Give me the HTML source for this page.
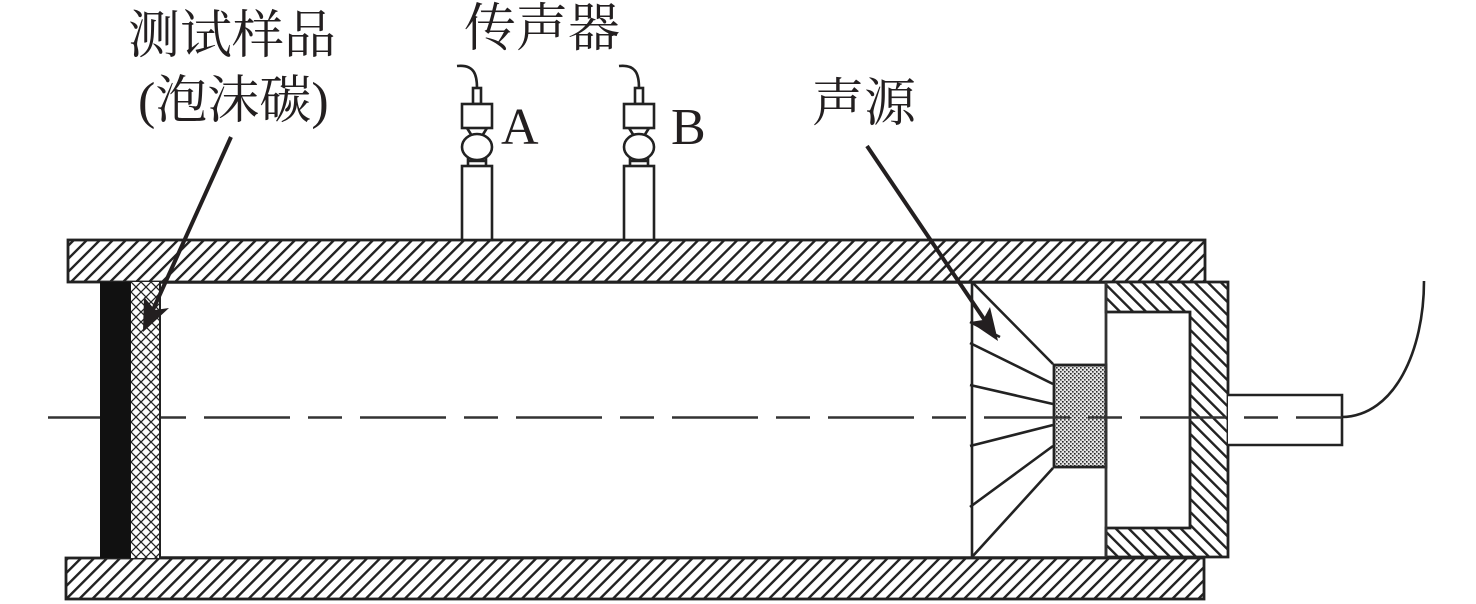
<!DOCTYPE html>
<html lang="zh">
<head>
<meta charset="utf-8">
<title>声学测试装置</title>
<style>
html,body{margin:0;padding:0;background:#fff;}
body{width:1476px;height:604px;overflow:hidden;}
svg{display:block;}
text{fill:#231f20;}
.cjk{font-family:"Liberation Serif","Noto Serif CJK SC",serif;font-size:52px;font-weight:400;}
.lat{font-family:"Liberation Serif",serif;font-size:52px;}
</style>
</head>
<body>
<svg width="1476" height="604" viewBox="0 0 1476 604" xmlns="http://www.w3.org/2000/svg">
<defs>
<pattern id="h1" width="9.2" height="9.2" patternUnits="userSpaceOnUse" patternTransform="rotate(45 0 0)">
<rect width="9.2" height="9.2" fill="#fff"/><rect x="0" y="0" width="2.4" height="9.2" fill="#222"/>
</pattern>
<pattern id="h2" width="9.2" height="9.2" patternUnits="userSpaceOnUse" patternTransform="rotate(-45 0 0)">
<rect width="9.2" height="9.2" fill="#fff"/><rect x="0" y="0" width="2.4" height="9.2" fill="#222"/>
</pattern>
<pattern id="x" width="10" height="10" patternUnits="userSpaceOnUse" patternTransform="translate(131 282)">
<rect width="10" height="10" fill="#fff"/>
<path d="M0 0L10 10M10 0L0 10" stroke="#222" stroke-width="1.3"/>
</pattern>
<pattern id="d" width="4" height="4" patternUnits="userSpaceOnUse" patternTransform="translate(1054 365)">
<rect width="4" height="4" fill="#e4e4e4"/>
<rect x="0" y="0" width="1.6" height="1.6" fill="#222"/>
<rect x="2" y="2" width="1.6" height="1.6" fill="#333"/>
</pattern>
<g id="mic" fill="#fff" stroke="#222" stroke-width="2.6">
<path d="M477 88C477 76 475 64 457 66" fill="none"/>
<rect x="473" y="88" width="8" height="16"/>
<rect x="462" y="104" width="30" height="24"/>
<path d="M467 128L472 136M487 128L482 136" fill="none"/>
<path d="M468 156V166M486 156V166M468 161H486" fill="none"/>
<ellipse cx="477" cy="147" rx="15" ry="13"/>
<rect x="462" y="166" width="30" height="74"/>
</g>
</defs>

<!-- body bars -->
<rect x="68" y="240" width="1137" height="42" fill="url(#h1)" stroke="#222" stroke-width="2.8"/>
<rect x="66" y="558" width="1138" height="41" fill="url(#h1)" stroke="#222" stroke-width="2.8"/>

<!-- microphones -->
<use href="#mic"/>
<use href="#mic" x="162"/>

<!-- sample -->
<rect x="100" y="282" width="31" height="276" fill="#111"/>
<rect x="131" y="282" width="29" height="276" fill="url(#x)"/>
<path d="M160 282V558" stroke="#222" stroke-width="2"/>

<!-- tube top/bottom edge -->
<path d="M160 282.5H1106M160 557.5H1106" stroke="#222" stroke-width="2.4"/>

<!-- horn -->
<g stroke="#222" stroke-width="2.6" fill="none">
<path d="M972 282V557"/>
<path d="M972 282L1053 364M972 557L1053 468"/>
<path d="M970 322L1000 337M970 343L1053 384M970 385L1053 404M970 446L1053 425M970 507L1053 446"/>
</g>
<rect x="1054" y="365" width="52" height="102" fill="url(#d)" stroke="#222" stroke-width="2.8"/>

<!-- back housing -->
<path d="M1106 282H1228V557H1106V528H1190V312H1106Z" fill="url(#h2)" stroke="#222" stroke-width="2.8"/>
<path d="M1106 282V557" stroke="#333" stroke-width="2.8"/>

<!-- stub + cable -->
<path d="M1228 395H1342V445H1228" fill="#fff" stroke="#222" stroke-width="2.6"/>
<path d="M1342 417C1395 416 1424 350 1424 281" fill="none" stroke="#222" stroke-width="2.6"/>

<!-- centre line -->
<path d="M48 417.5H186" stroke="#333" stroke-width="2.4"/>
<path d="M204 417.5H1342" stroke="#333" stroke-width="2.4" stroke-dasharray="86 18 34 18" fill="none"/>
<rect x="100" y="405" width="31" height="25" fill="#111"/>
<rect x="131" y="405" width="29" height="25" fill="url(#x)"/>
<path d="M160 405V430" stroke="#222" stroke-width="2"/>

<!-- arrows -->
<path d="M231 137L152 312" stroke="#231f20" stroke-width="4" fill="none"/>
<path d="M143 332L144 297L155 310L169 308Z" fill="#231f20"/>
<path d="M867 146L986 322" stroke="#231f20" stroke-width="4" fill="none"/>
<path d="M998 341L970 322L983 320L990 307Z" fill="#231f20"/>

<!-- labels -->
<text class="cjk" x="128" y="53">测试样品</text>
<text class="cjk" x="138" y="118">(泡沫碳)</text>
<text class="cjk" x="464" y="46">传声器</text>
<text class="cjk" x="812" y="121">声源</text>
<text class="lat" x="501" y="144">A</text>
<text class="lat" x="671" y="144">B</text>
</svg>
</body>
</html>
